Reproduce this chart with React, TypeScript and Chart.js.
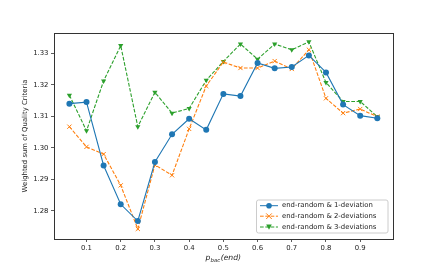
import React, { useEffect, useRef } from "react";
import { Chart, registerables } from "chart.js";

Chart.register(...registerables);

const xValues = [0.05, 0.1, 0.15, 0.2, 0.25, 0.3, 0.35, 0.4, 0.45, 0.5, 0.55, 0.6, 0.65, 0.7, 0.75, 0.8, 0.85, 0.9, 0.95];
const oneDeviation = [1.314, 1.3145, 1.2944, 1.2821, 1.2768, 1.2955, 1.3043, 1.3092, 1.3057, 1.3171, 1.3164, 1.3269, 1.3252, 1.3256, 1.3293, 1.3239, 1.3137, 1.3102, 1.3094];
const twoDeviations = [1.3067, 1.3003, 1.298, 1.2881, 1.2743, 1.2946, 1.2913, 1.306, 1.3196, 1.3272, 1.3253, 1.3253, 1.3275, 1.325, 1.3311, 1.3157, 1.311, 1.3123, 1.3099];
const threeDeviations = [1.3167, 1.3054, 1.3212, 1.3324, 1.3067, 1.3176, 1.311, 1.3125, 1.3214, 1.3274, 1.3329, 1.3281, 1.3329, 1.3311, 1.3336, 1.3207, 1.3147, 1.3147, 1.3099];
const seriesLabels = ["end-random & 1-deviation", "end-random & 2-deviations", "end-random & 3-deviations"];
const xTicks = [0.1, 0.2, 0.3, 0.4, 0.5, 0.6, 0.7, 0.8, 0.9];
const yTicks = [1.28, 1.29, 1.3, 1.31, 1.32, 1.33];
const yAxisLabel = "Weighted sum of Quality Criteria";

const FONT = "'DejaVu Sans', sans-serif";
const FS = 6.9;
const TEXT = "#222";
const FRAME = "#333";
const COLORS = ["#1f77b4", "#ff7f0e", "#2ca02c"];
const MARKERS = ["circle", "x", "v"];

function drawMarker(ctx: CanvasRenderingContext2D, kind: string, x: number, y: number, r: number, color: string) {
  ctx.save();
  ctx.fillStyle = color;
  ctx.strokeStyle = color;
  ctx.setLineDash([]);
  if (kind === "circle") {
    ctx.beginPath();
    ctx.arc(x, y, r, 0, Math.PI * 2);
    ctx.fill();
  } else if (kind === "x") {
    ctx.lineWidth = 1;
    ctx.beginPath();
    ctx.moveTo(x - r, y - r);
    ctx.lineTo(x + r, y + r);
    ctx.moveTo(x - r, y + r);
    ctx.lineTo(x + r, y - r);
    ctx.stroke();
  } else {
    ctx.beginPath();
    ctx.moveTo(x - r, y - r * 0.85);
    ctx.lineTo(x + r, y - r * 0.85);
    ctx.lineTo(x, y + r * 1.0);
    ctx.closePath();
    ctx.fill();
  }
  ctx.restore();
}

const overlayPlugin = {
  id: "overlay",
  afterDatasetsDraw(chart: any) {
    const { ctx, chartArea } = chart;
    ctx.save();
    ctx.strokeStyle = FRAME;
    ctx.lineWidth = 1;
    ctx.setLineDash([]);
    ctx.strokeRect(Math.round(chartArea.left) + 0.5, Math.round(chartArea.top) + 0.5,
      Math.round(chartArea.right - chartArea.left), Math.round(chartArea.bottom - chartArea.top));
    ctx.restore();
  },
  afterDraw(chart: any) {
    const { ctx, chartArea } = chart;
    ctx.save();
    // y label
    ctx.fillStyle = TEXT;
    ctx.font = `${FS}px ${FONT}`;
    ctx.textAlign = "center";
    ctx.textBaseline = "middle";
    ctx.translate(25, (chartArea.top + chartArea.bottom) / 2);
    ctx.rotate(-Math.PI / 2);
    ctx.fillText(yAxisLabel, 0, 0);
    ctx.restore();

    // x label: p_bac(end)
    ctx.save();
    ctx.fillStyle = TEXT;
    ctx.textBaseline = "alphabetic";
    ctx.textAlign = "left";
    const mainFont = `italic ${FS + 0.8}px ${FONT}`;
    const subFont = `italic ${(FS + 0.8) * 0.7}px ${FONT}`;
    ctx.font = mainFont;
    const wp = ctx.measureText("p").width;
    const we = ctx.measureText("(end)").width;
    ctx.font = subFont;
    const wb = ctx.measureText("bac").width;
    const total = wp + wb + we + 0.5;
    const cx = (chartArea.left + chartArea.right) / 2;
    let x = cx - total / 2;
    const baseY = 260;
    ctx.font = mainFont;
    ctx.fillText("p", x, baseY);
    x += wp;
    ctx.font = subFont;
    ctx.fillText("bac", x, baseY + 1.6);
    x += wb + 0.5;
    ctx.font = mainFont;
    ctx.fillText("(end)", x, baseY);
    ctx.restore();

    // legend
    ctx.save();
    const lx = 256.5, ly = 200, lw = 131.5, lh = 33;
    ctx.fillStyle = "rgba(255,255,255,0.85)";
    ctx.strokeStyle = "#ccc";
    ctx.lineWidth = 1;
    ctx.beginPath();
    const rr = 2;
    ctx.moveTo(lx + rr, ly);
    ctx.lineTo(lx + lw - rr, ly);
    ctx.quadraticCurveTo(lx + lw, ly, lx + lw, ly + rr);
    ctx.lineTo(lx + lw, ly + lh - rr);
    ctx.quadraticCurveTo(lx + lw, ly + lh, lx + lw - rr, ly + lh);
    ctx.lineTo(lx + rr, ly + lh);
    ctx.quadraticCurveTo(lx, ly + lh, lx, ly + lh - rr);
    ctx.lineTo(lx, ly + rr);
    ctx.quadraticCurveTo(lx, ly, lx + rr, ly);
    ctx.closePath();
    ctx.fill();
    ctx.stroke();
    const rows = [205.7, 216.2, 227];
    chart.data.datasets.forEach((ds: any, i: number) => {
      const y = rows[i];
      ctx.strokeStyle = COLORS[i];
      ctx.lineWidth = 1;
      ctx.setLineDash(i === 0 ? [] : [3.7, 1.6]);
      ctx.beginPath();
      ctx.moveTo(260, y);
      ctx.lineTo(278, y);
      ctx.stroke();
      drawMarker(ctx, MARKERS[i], 269, y, 2.8, COLORS[i]);
      ctx.fillStyle = TEXT;
      ctx.font = `${FS}px ${FONT}`;
      ctx.textAlign = "left";
      ctx.textBaseline = "middle";
      ctx.fillText(ds.label, 282, y);
    });
    ctx.restore();
  },
};

export default function App() {
  const canvasRef = useRef<HTMLCanvasElement | null>(null);

  useEffect(() => {
    document.body.style.margin = "0";
    const canvas = canvasRef.current;
    if (!canvas) return;
    const series = [oneDeviation, twoDeviations, threeDeviations];
    const pointStyles: any[] = ["circle", "crossRot", "triangle"];
    const chart = new Chart(canvas, {
      type: "line",
      data: {
        datasets: series.map((vals, i) => ({
          label: seriesLabels[i],
          data: xValues.map((x, j) => ({ x, y: vals[j] })),
          borderColor: COLORS[i],
          backgroundColor: COLORS[i],
          borderWidth: 1.1,
          borderDash: i === 0 ? [] : [3.7, 1.6],
          pointStyle: pointStyles[i],
          pointRotation: i === 2 ? 180 : 0,
          pointRadius: i === 0 ? 3 : 3,
          pointBorderWidth: i === 1 ? 1 : 0,
          pointBorderColor: COLORS[i],
          pointBackgroundColor: COLORS[i],
          tension: 0,
          fill: false,
        })),
      },
      options: {
        animation: false,
        responsive: false,
        devicePixelRatio: 1,
        events: [],
        layout: { padding: { top: 33, right: 43.3, bottom: 0, left: 0 } },
        plugins: { legend: { display: false }, tooltip: { enabled: false } },
        scales: {
          x: {
            type: "linear",
            min: 0.005,
            max: 0.995,
            afterBuildTicks: (axis: any) => {
              axis.ticks = xTicks.map((v) => ({ value: v }));
            },
            afterFit: (axis: any) => {
              axis.height = 34;
            },
            ticks: {
              autoSkip: false,
              maxRotation: 0,
              padding: 2,
              color: TEXT,
              font: { family: FONT, size: FS },
              callback: (v: any) => Number(v).toFixed(1),
            },
            grid: { drawOnChartArea: false, drawTicks: true, tickLength: 3, tickColor: FRAME, tickWidth: 0.8 },
            border: { display: false },
          },
          y: {
            type: "linear",
            min: 1.2711,
            max: 1.3364,
            afterBuildTicks: (axis: any) => {
              axis.ticks = yTicks.map((v) => ({ value: v }));
            },
            afterFit: (axis: any) => {
              axis.width = 54;
            },
            ticks: {
              autoSkip: false,
              padding: 2.5,
              color: TEXT,
              font: { family: FONT, size: FS },
              callback: (v: any) => Number(v).toFixed(2),
            },
            grid: { drawOnChartArea: false, drawTicks: true, tickLength: 3, tickColor: FRAME, tickWidth: 0.8 },
            border: { display: false },
          },
        },
      },
      plugins: [overlayPlugin],
    });
    return () => chart.destroy();
  }, []);

  return (
    <div style={{ width: 436, height: 273, background: "#fff" }}>
      <canvas ref={canvasRef} width={436} height={273} style={{ display: "block" }} />
    </div>
  );
}
